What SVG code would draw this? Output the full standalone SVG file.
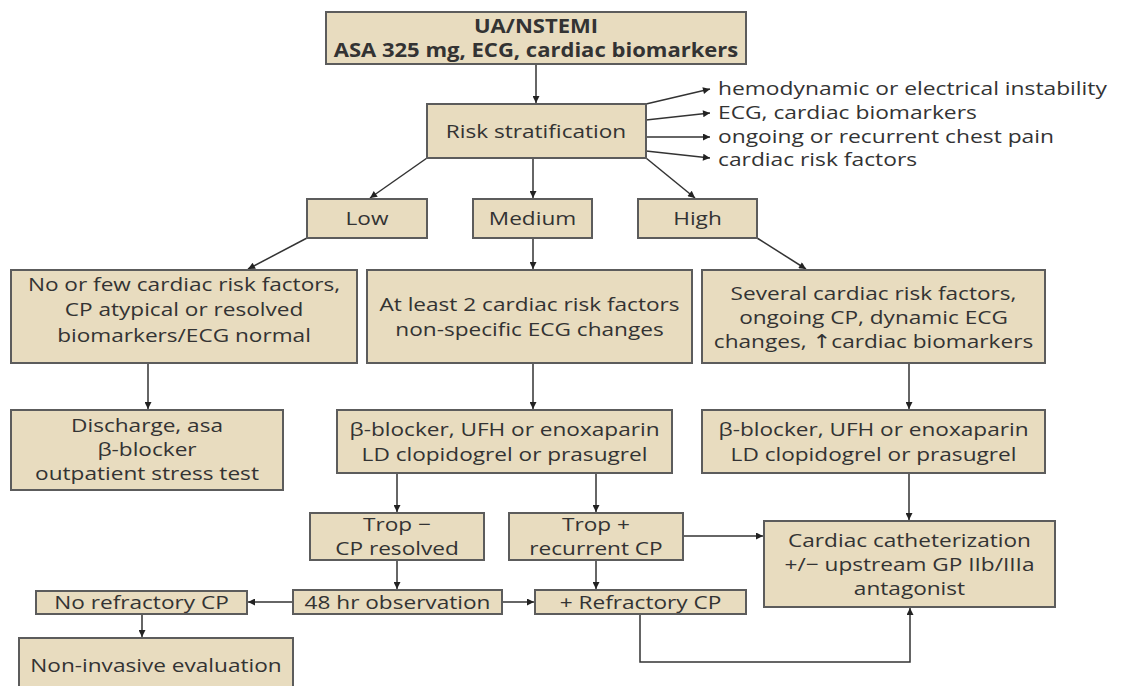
<svg xmlns="http://www.w3.org/2000/svg" width="1121" height="686" viewBox="0 0 1121 686">
<defs>
<marker id="ah" viewBox="0 0 10 10" refX="10" refY="5" markerWidth="10" markerHeight="7" markerUnits="userSpaceOnUse" orient="auto">
<path d="M0,0 L10,5 L0,10 z" fill="#222"/>
</marker>
<style>
.box{fill:#e8dcbf;stroke:#5c5c5c;stroke-width:2}
.t{font-family:"Open Sans","Noto Sans","DejaVu Sans",sans-serif;font-size:19px;fill:#333;text-anchor:middle}
.b{font-weight:bold}
.l{text-anchor:start}
.c{fill:none;stroke:#333;stroke-width:1.5}
.a{marker-end:url(#ah)}
</style>
</defs>
<rect width="1121" height="686" fill="#fff"/>
<g id="connectors">
<line class="c a" x1="536" y1="64" x2="536" y2="103"/>
<line class="c a" x1="646" y1="104" x2="710" y2="89"/>
<line class="c a" x1="646" y1="120" x2="710" y2="113"/>
<line class="c a" x1="646" y1="137" x2="710" y2="137"/>
<line class="c a" x1="646" y1="151" x2="710" y2="158"/>
<line class="c a" x1="427" y1="158" x2="370" y2="198"/>
<line class="c a" x1="533" y1="158" x2="533" y2="198"/>
<line class="c a" x1="646" y1="158" x2="695" y2="198"/>
<line class="c a" x1="307" y1="238" x2="248" y2="269"/>
<line class="c a" x1="533" y1="238" x2="533" y2="269"/>
<line class="c a" x1="757" y1="238" x2="806" y2="269"/>
<line class="c a" x1="148" y1="363" x2="148" y2="409"/>
<line class="c a" x1="533" y1="363" x2="533" y2="409"/>
<line class="c a" x1="909" y1="363" x2="909" y2="409"/>
<line class="c a" x1="397" y1="473" x2="397" y2="512"/>
<line class="c a" x1="596" y1="473" x2="596" y2="512"/>
<line class="c a" x1="397" y1="560" x2="397" y2="589"/>
<line class="c a" x1="596" y1="560" x2="596" y2="589"/>
<line class="c a" x1="683" y1="536" x2="763" y2="536"/>
<line class="c a" x1="909" y1="473" x2="909" y2="520"/>
<line class="c a" x1="293" y1="602" x2="248" y2="602"/>
<line class="c a" x1="502" y1="602" x2="534" y2="602"/>
<line class="c a" x1="142" y1="614" x2="142" y2="637"/>
<path class="c a" d="M640,614 V662 H910 V608"/>
</g>
<g id="n-top"><rect class="box" x="326" y="12" width="420" height="52"/>
<text class="t b" transform="translate(536,33) scale(1.16,1)">UA/NSTEMI</text>
<text class="t b" transform="translate(536,57) scale(1.16,1)">ASA 325 mg, ECG, cardiac biomarkers</text></g>
<g id="n-risk"><rect class="box" x="427" y="104" width="219" height="54"/>
<text class="t" transform="translate(536,138) scale(1.19,1)">Risk stratification</text></g>
<g id="n-factors">
<text class="t l" transform="translate(718,95) scale(1.2,1)">hemodynamic or electrical instability</text>
<text class="t l" transform="translate(718,119) scale(1.2,1)">ECG, cardiac biomarkers</text>
<text class="t l" transform="translate(718,143) scale(1.2,1)">ongoing or recurrent chest pain</text>
<text class="t l" transform="translate(718,166) scale(1.2,1)">cardiac risk factors</text></g>
<g id="n-low"><rect class="box" x="307" y="199" width="120" height="39"/>
<text class="t" transform="translate(367,225) scale(1.19,1)">Low</text></g>
<g id="n-medium"><rect class="box" x="473" y="199" width="119" height="39"/>
<text class="t" transform="translate(532.5,225) scale(1.19,1)">Medium</text></g>
<g id="n-high"><rect class="box" x="638" y="199" width="119" height="39"/>
<text class="t" transform="translate(697.5,225) scale(1.19,1)">High</text></g>
<g id="n-lowdesc"><rect class="box" x="11" y="270" width="346" height="93"/>
<text class="t" transform="translate(184,291) scale(1.19,1)">No or few cardiac risk factors,</text>
<text class="t" transform="translate(184,316) scale(1.19,1)">CP atypical or resolved</text>
<text class="t" transform="translate(184,342) scale(1.19,1)">biomarkers/ECG normal</text></g>
<g id="n-meddesc"><rect class="box" x="367" y="270" width="325" height="93"/>
<text class="t" transform="translate(529.5,311) scale(1.19,1)">At least 2 cardiac risk factors</text>
<text class="t" transform="translate(529.5,336) scale(1.19,1)">non-specific ECG changes</text></g>
<g id="n-highdesc"><rect class="box" x="702" y="270" width="343" height="93"/>
<text class="t" transform="translate(873.5,300) scale(1.19,1)">Several cardiac risk factors,</text>
<text class="t" transform="translate(873.5,324) scale(1.19,1)">ongoing CP, dynamic ECG</text>
<text class="t" transform="translate(873.5,348) scale(1.19,1)">changes, ↑cardiac biomarkers</text></g>
<g id="n-discharge"><rect class="box" x="11" y="410" width="272" height="80"/>
<text class="t" transform="translate(147,432) scale(1.19,1)">Discharge, asa</text>
<text class="t" transform="translate(147,456) scale(1.19,1)">β-blocker</text>
<text class="t" transform="translate(147,480) scale(1.19,1)">outpatient stress test</text></g>
<g id="n-medtx"><rect class="box" x="337" y="410" width="335" height="63"/>
<text class="t" transform="translate(504.5,436) scale(1.19,1)">β-blocker, UFH or enoxaparin</text>
<text class="t" transform="translate(504.5,461) scale(1.19,1)">LD clopidogrel or prasugrel</text></g>
<g id="n-hightx"><rect class="box" x="702" y="410" width="343" height="63"/>
<text class="t" transform="translate(873.5,436) scale(1.19,1)">β-blocker, UFH or enoxaparin</text>
<text class="t" transform="translate(873.5,461) scale(1.19,1)">LD clopidogrel or prasugrel</text></g>
<g id="n-tropneg"><rect class="box" x="310" y="513" width="174" height="47"/>
<text class="t" transform="translate(397,531) scale(1.19,1)">Trop −</text>
<text class="t" transform="translate(397,555) scale(1.19,1)">CP resolved</text></g>
<g id="n-troppos"><rect class="box" x="509" y="513" width="174" height="47"/>
<text class="t" transform="translate(596,531) scale(1.19,1)">Trop +</text>
<text class="t" transform="translate(596,555) scale(1.19,1)">recurrent CP</text></g>
<g id="n-cath"><rect class="box" x="764" y="521" width="291" height="86"/>
<text class="t" transform="translate(909.5,547) scale(1.19,1)">Cardiac catheterization</text>
<text class="t" transform="translate(909.5,571) scale(1.19,1)">+/− upstream GP IIb/IIIa</text>
<text class="t" transform="translate(909.5,595) scale(1.19,1)">antagonist</text></g>
<g id="n-obs"><rect class="box" x="293" y="590" width="209" height="24"/>
<text class="t" transform="translate(397.5,609) scale(1.19,1)">48 hr observation</text></g>
<g id="n-noref"><rect class="box" x="36" y="591" width="211" height="23"/>
<text class="t" transform="translate(141.5,609) scale(1.19,1)">No refractory CP</text></g>
<g id="n-ref"><rect class="box" x="535" y="590" width="211" height="24"/>
<text class="t" transform="translate(640.5,609) scale(1.19,1)">+ Refractory CP</text></g>
<g id="n-noninv"><rect class="box" x="19" y="638" width="274" height="60"/>
<text class="t" transform="translate(156,672) scale(1.19,1)">Non-invasive evaluation</text></g>
</svg>
